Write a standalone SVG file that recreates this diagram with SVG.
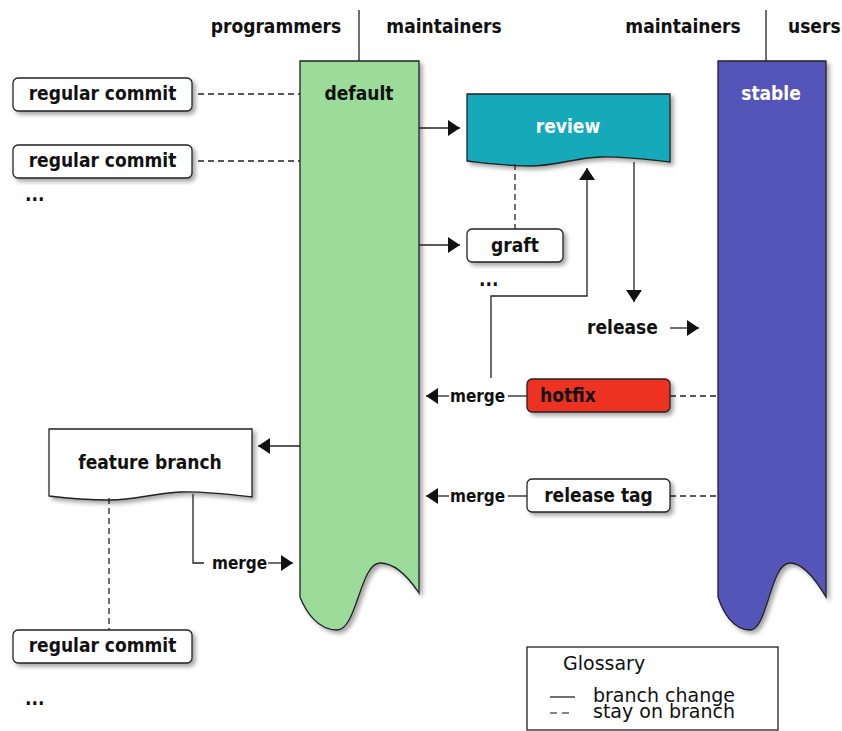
<svg xmlns="http://www.w3.org/2000/svg" width="842" height="731" viewBox="0 0 842 731">
  <style>
    text { font-family: "DejaVu Sans Condensed", "DejaVu Sans", sans-serif; font-weight: bold; font-size: 19px; fill: #111; }
    .c { text-anchor: middle; }
    .w { fill: #fff; }
    .sm { font-size: 17px; }
    .reg { font-family: "DejaVu Sans", sans-serif; font-weight: normal; font-size: 19px; }
    .box { fill: #fff; stroke: #222; stroke-width: 1.3; }
    .ln { fill: none; stroke: #222; stroke-width: 1.3; }
    .dash { fill: none; stroke: #222; stroke-width: 1.3; stroke-dasharray: 6 4; }
    .arr { marker-end: url(#head); }
  </style>
  <defs>
    <filter id="shadow" x="-10%" y="-10%" width="130%" height="130%">
      <feDropShadow dx="3" dy="3" stdDeviation="2" flood-color="#000" flood-opacity="0.35"/>
    </filter>
    <marker id="head" markerUnits="userSpaceOnUse" viewBox="0 0 12 16" markerWidth="12" markerHeight="16" refX="12" refY="8" orient="auto">
      <path d="M0,0 L12,8 L0,16 Z" fill="#111"/>
    </marker>
  </defs>

  <rect width="842" height="731" fill="#fff"/>

  <!-- column headers -->
  <g id="headers">
    <text class="c" x="276" y="33">programmers</text>
    <text class="c" x="444" y="33">maintainers</text>
    <text class="c" x="683" y="33">maintainers</text>
    <text x="788" y="33">users</text>
    <line class="ln" x1="359" y1="10" x2="359" y2="61"/>
    <line class="ln" x1="766" y1="10" x2="766" y2="61"/>
  </g>

  <!-- branches -->
  <g id="default">
    <path d="M300,61 H419 V593 C409,578 395,563 380,563 C360,563 357,630 337,630 C318,630 306,612 300,597 Z" fill="#9bdc9a" stroke="#222" stroke-width="1.3" filter="url(#shadow)"/>
    <text class="c" x="359" y="100">default</text>
  </g>
  <g id="stable">
    <path d="M718,61 H826 V597 C816,580 803,563 790,563 C770,563 768,630 750,630 C733,630 723,612 718,597 Z" fill="#5555b9" stroke="#222" stroke-width="1.3" filter="url(#shadow)"/>
    <text class="c w" x="771" y="100">stable</text>
  </g>

  <!-- programmers side -->
  <g id="commit1">
    <rect class="box" x="13" y="78" width="179" height="33" rx="5" filter="url(#shadow)"/>
    <text class="c" x="102.5" y="100">regular commit</text>
  </g>
  <g id="commit2">
    <rect class="box" x="13" y="145" width="179" height="33" rx="5" filter="url(#shadow)"/>
    <text class="c" x="102.5" y="167">regular commit</text>
  </g>
  <g id="more1">
    <text x="25" y="201">...</text>
  </g>
  <g id="feature">
    <path class="box" d="M49,429 H252 V497 C235,495 205,491 180,492 C155,493 135,500 110,500 C85,500 65,498 49,496 Z" filter="url(#shadow)"/>
    <text class="c" x="150" y="469">feature branch</text>
  </g>
  <g id="commit3">
    <rect class="box" x="13" y="630" width="179" height="33" rx="5" filter="url(#shadow)"/>
    <text class="c" x="102.5" y="652">regular commit</text>
  </g>
  <g id="more3">
    <text x="25" y="705">...</text>
  </g>

  <!-- maintainers side -->
  <g id="review">
    <path d="M467,94 H670 V162 C650,160 625,156 600,157 C575,158 555,166 530,166 C505,166 485,163 467,161 Z" fill="#12a9ba" stroke="#222" stroke-width="1.3" filter="url(#shadow)"/>
    <text class="c w" x="568" y="133">review</text>
  </g>
  <g id="graft">
    <rect class="box" x="467" y="229" width="96" height="33" rx="5" filter="url(#shadow)"/>
    <text class="c" x="515" y="252">graft</text>
  </g>
  <g id="more2">
    <text x="479" y="286">...</text>
  </g>
  <g id="release">
    <text x="587" y="334">release</text>
  </g>
  <g id="hotfix">
    <rect x="527" y="379" width="143" height="33" rx="5" fill="#ee3224" stroke="#222" stroke-width="1.3" filter="url(#shadow)"/>
    <text x="540" y="402">hotfix</text>
  </g>
  <g id="releasetag">
    <rect class="box" x="527" y="479" width="143" height="33" rx="5" filter="url(#shadow)"/>
    <text class="c" x="598.5" y="502">release tag</text>
  </g>

  <!-- connectors -->
  <g id="connectors">
    <line class="dash" x1="198" y1="94" x2="300" y2="94"/>
    <line class="dash" x1="198" y1="161" x2="300" y2="161"/>
    <line class="ln arr" x1="419" y1="128" x2="460" y2="128"/>
    <line class="ln arr" x1="419" y1="245" x2="460" y2="245"/>
    <line class="dash" x1="515" y1="164" x2="515" y2="229"/>
    <polyline class="ln arr" points="491,378 491,296 587,296 587,168"/>
    <line class="ln arr" x1="634" y1="162" x2="634" y2="302"/>
    <line class="ln arr" x1="670" y1="328" x2="699" y2="328"/>
    <line class="ln" x1="508" y1="396" x2="527" y2="396"/>
    <text class="sm" x="450" y="402">merge</text>
    <line class="ln arr" x1="449" y1="396" x2="426" y2="396"/>
    <line class="dash" x1="670" y1="396" x2="718" y2="396"/>
    <line class="ln" x1="508" y1="496" x2="527" y2="496"/>
    <text class="sm" x="450" y="502">merge</text>
    <line class="ln arr" x1="449" y1="496" x2="426" y2="496"/>
    <line class="dash" x1="670" y1="496" x2="718" y2="496"/>
    <line class="ln arr" x1="300" y1="446" x2="258" y2="446"/>
    <line class="dash" x1="109" y1="498" x2="109" y2="630"/>
    <polyline class="ln" points="193,494 193,563 204,563"/>
    <text class="sm" x="212" y="569">merge</text>
    <line class="ln arr" x1="268" y1="563" x2="293" y2="563"/>
  </g>

  <!-- legend -->
  <g id="glossary">
    <rect x="527" y="647" width="251" height="83" fill="#fff" stroke="#222" stroke-width="1.3"/>
    <text class="reg" x="563" y="670">Glossary</text>
    <line x1="550" y1="697" x2="575" y2="697" stroke="#111" stroke-width="1.2"/>
    <text class="reg" x="593" y="702">branch change</text>
    <line x1="550" y1="713" x2="570" y2="713" stroke="#111" stroke-width="1.2" stroke-dasharray="7 5"/>
    <text class="reg" x="593" y="718">stay on branch</text>
  </g>
</svg>
